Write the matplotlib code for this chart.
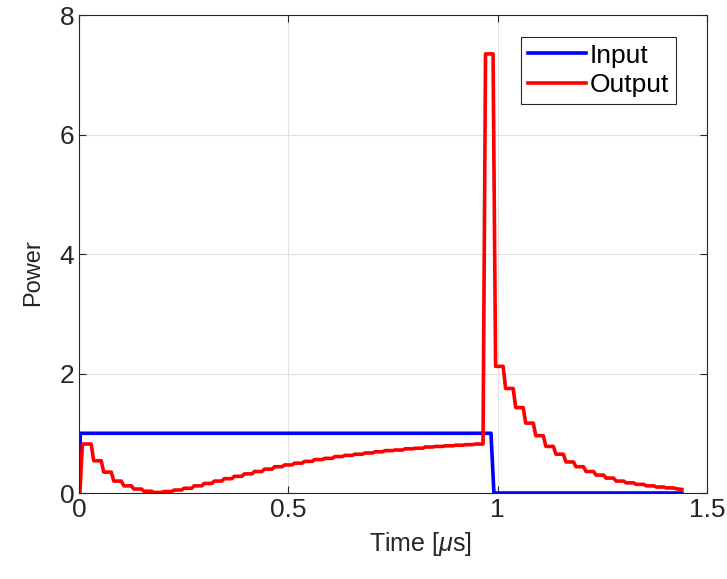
import matplotlib
matplotlib.use("Agg")
import matplotlib.pyplot as plt
import numpy as np
from matplotlib.ticker import FormatStrFormatter

# input pulse (time in us, power)
t_in = [0.0, 0.003, 0.984, 0.991, 1.44]
p_in = [0.0, 1.0, 1.0, 0.0, 0.0]

# output: one level per cavity round trip, starting at the listed times
t_steps = [0.002, 0.029, 0.053, 0.077, 0.101, 0.125, 0.149, 0.173, 0.197, 0.221,
           0.245, 0.269, 0.293, 0.317, 0.341, 0.365, 0.389, 0.413, 0.437, 0.461,
           0.485, 0.509, 0.533, 0.557, 0.581, 0.605, 0.629, 0.653, 0.677, 0.701,
           0.725, 0.749, 0.773, 0.797, 0.821, 0.845, 0.869, 0.893, 0.917, 0.941,
           0.965, 0.989, 1.013, 1.037, 1.061, 1.085, 1.109, 1.133, 1.157, 1.181,
           1.205, 1.229, 1.253, 1.277, 1.301, 1.325, 1.349, 1.373, 1.397, 1.421]
p_steps = [0.82, 0.54, 0.35, 0.20, 0.12, 0.067, 0.03, 0.01, 0.025, 0.05,
           0.08, 0.12, 0.16, 0.20, 0.24, 0.28, 0.32, 0.36, 0.40, 0.44,
           0.47, 0.50, 0.53, 0.56, 0.58, 0.61, 0.63, 0.65, 0.67, 0.69,
           0.71, 0.72, 0.74, 0.75, 0.77, 0.78, 0.79, 0.80, 0.81, 0.82,
           7.35, 2.12, 1.75, 1.43, 1.17, 0.96, 0.78, 0.65, 0.52, 0.44,
           0.36, 0.30, 0.25, 0.20, 0.17, 0.145, 0.12, 0.10, 0.085, 0.07]
t_end = 1.44
p_end = 0.06

plt.rcParams['font.family'] = ['Liberation Sans', 'DejaVu Sans']
plt.rcParams['mathtext.fontset'] = 'custom'
plt.rcParams['mathtext.rm'] = 'Liberation Sans'
plt.rcParams['mathtext.it'] = 'Liberation Sans:italic'

# staircase for the output with short transitions
ramp = 0.006
t_out = [0.0]
p_out = [0.0]
prev = 0.0
for t, p in zip(t_steps, p_steps):
    t_out += [t, t + ramp]
    p_out += [prev, p]
    prev = p
t_out.append(t_end)
p_out.append(p_end)

fig = plt.figure(figsize=(7.27, 5.79), dpi=100)
ax = fig.add_axes([0.1087, 0.1485, 0.8638, 0.8255])

ax.plot(t_in, p_in, color='#0000ff', lw=2.6, label='Input')
ax.plot(t_out, p_out, color='#ff0000', lw=2.6, label='Output')

ax.set_xlim(0, 1.5)
ax.set_ylim(0, 8)
ax.set_xticks([0, 0.5, 1, 1.5])
ax.set_yticks([0, 2, 4, 6, 8])
ax.xaxis.set_major_formatter(FormatStrFormatter('%g'))
ax.yaxis.set_major_formatter(FormatStrFormatter('%g'))
ax.grid(True, color='#e0e0e0', lw=0.8)
ax.set_axisbelow(True)
ax.tick_params(direction='in', top=True, right=True, length=5, width=0.8,
               labelsize=19, colors='#262626')
for s in ax.spines.values():
    s.set_color('#262626')
    s.set_linewidth(0.8)

ax.set_xlabel('Time [$\\mu$s]', fontsize=18, color='#262626')
ax.set_ylabel('Power', fontsize=17, color='#262626')
ax.xaxis.set_label_coords(0.543, -0.078)
ax.yaxis.set_label_coords(-0.055, 0.462)

leg = ax.legend(loc='upper right', bbox_to_anchor=(0.9506, 0.954), fontsize=19,
                fancybox=False, framealpha=1, edgecolor='#262626',
                handlelength=2.2, handletextpad=0.15, borderpad=0.25,
                labelspacing=0.2, borderaxespad=0)
leg.get_frame().set_linewidth(0.8)

fig.savefig('out.png', dpi=100)
